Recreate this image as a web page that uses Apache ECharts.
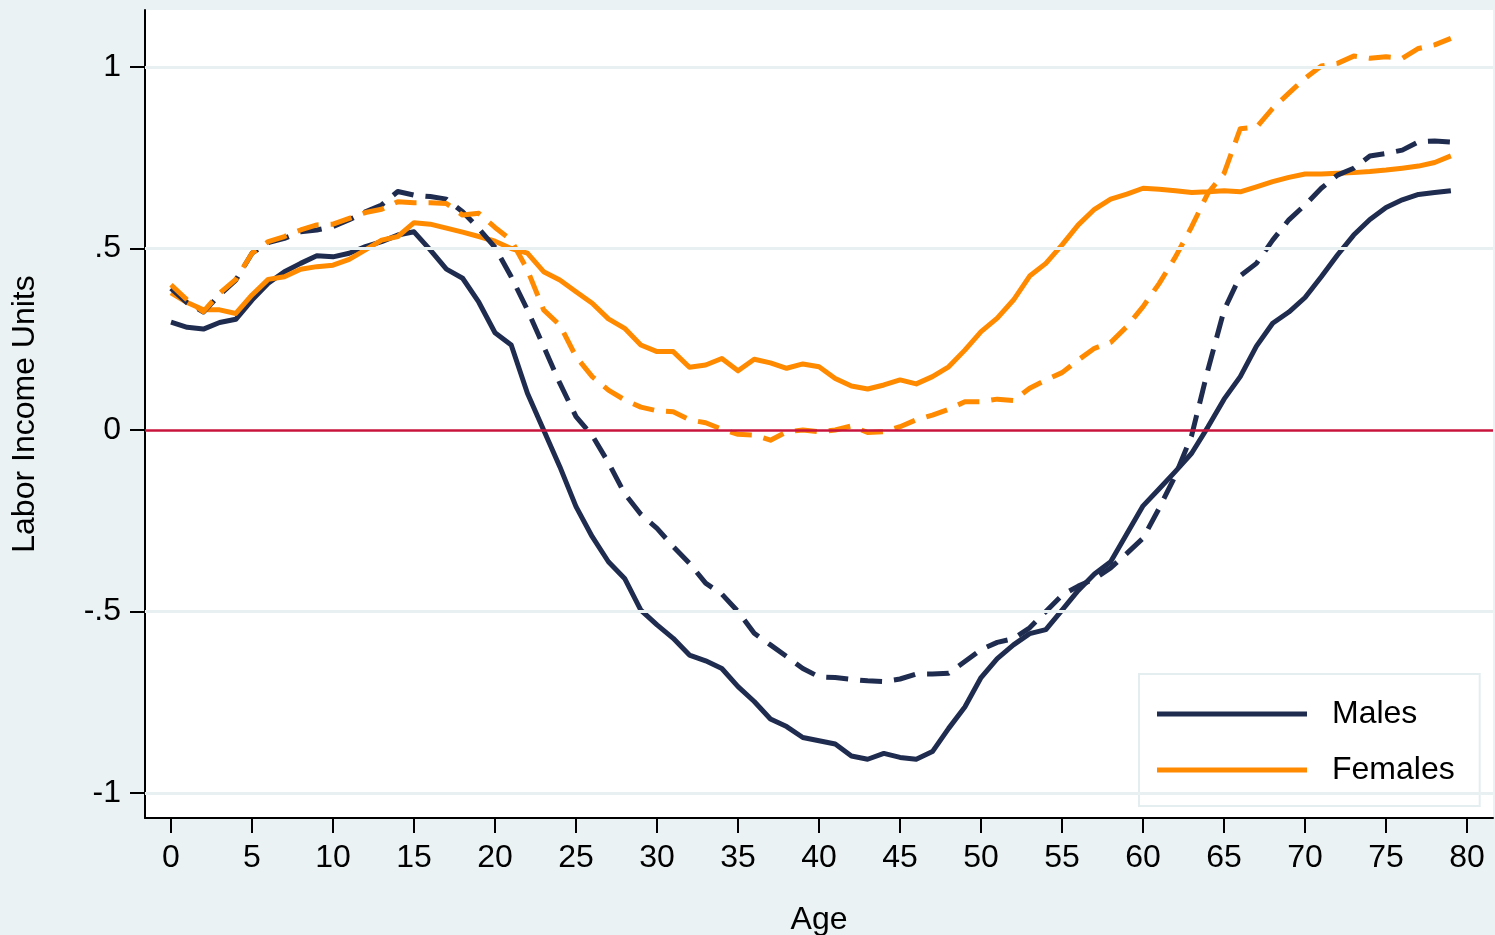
<!DOCTYPE html>
<html>
<head>
<meta charset="utf-8">
<script src="https://cdn.jsdelivr.net/npm/echarts@6/dist/echarts.min.js"></script>
<style>
  html, body { margin: 0; padding: 0; background: #eaf2f3; }
  #chart { width: 1495px; height: 935px; }
</style>
</head>
<body>
<div id="chart"></div>
<script>
const ages = [0,1,2,3,4,5,6,7,8,9,10,11,12,13,14,15,16,17,18,19,20,21,22,23,24,25,26,27,28,29,30,31,32,33,34,35,36,37,38,39,40,41,42,43,44,45,46,47,48,49,50,51,52,53,54,55,56,57,58,59,60,61,62,63,64,65,66,67,68,69,70,71,72,73,74,75,76,77,78,79];

const malesSolid = [0.297,0.283,0.278,0.296,0.305,0.358,0.404,0.436,0.459,0.480,
  0.477,0.487,0.505,0.519,0.537,0.546,0.496,0.443,0.418,0.352,
  0.268,0.234,0.101,0.000,-0.101,-0.211,-0.294,-0.363,-0.409,-0.496,
  -0.537,-0.574,-0.620,-0.636,-0.657,-0.707,-0.748,-0.796,-0.817,-0.847,
  -0.856,-0.865,-0.898,-0.907,-0.891,-0.902,-0.907,-0.886,-0.822,-0.763,
  -0.682,-0.630,-0.592,-0.561,-0.550,-0.496,-0.442,-0.397,-0.363,-0.286,
  -0.209,-0.162,-0.114,-0.064,0.008,0.085,0.147,0.231,0.294,0.325,
  0.365,0.422,0.482,0.537,0.580,0.613,0.634,0.649,0.654,0.659];

const malesDashed = [0.390,0.350,0.325,0.372,0.413,0.487,0.516,0.528,0.546,0.551,
  0.560,0.579,0.601,0.620,0.657,0.647,0.643,0.636,0.601,0.555,
  0.503,0.422,0.331,0.230,0.129,0.037,-0.015,-0.090,-0.175,-0.232,
  -0.271,-0.321,-0.367,-0.422,-0.452,-0.500,-0.560,-0.592,-0.624,-0.657,
  -0.680,-0.682,-0.687,-0.691,-0.693,-0.686,-0.672,-0.672,-0.670,-0.638,
  -0.605,-0.585,-0.575,-0.545,-0.500,-0.455,-0.430,-0.410,-0.380,-0.340,
  -0.298,-0.215,-0.125,-0.015,0.165,0.330,0.425,0.459,0.523,0.579,
  0.620,0.666,0.702,0.721,0.755,0.762,0.771,0.794,0.796,0.793];

const femalesSolid = [0.378,0.351,0.331,0.331,0.321,0.372,0.415,0.422,0.443,0.450,
  0.454,0.470,0.496,0.523,0.533,0.571,0.567,0.556,0.545,0.533,
  0.520,0.500,0.487,0.436,0.413,0.381,0.349,0.306,0.280,0.234,
  0.216,0.216,0.173,0.179,0.197,0.163,0.195,0.185,0.170,0.182,
  0.174,0.142,0.121,0.113,0.124,0.138,0.127,0.147,0.174,0.220,
  0.271,0.308,0.358,0.424,0.459,0.510,0.565,0.608,0.636,0.650,
  0.666,0.663,0.659,0.654,0.656,0.659,0.656,0.670,0.684,0.696,
  0.705,0.705,0.707,0.709,0.712,0.716,0.721,0.727,0.737,0.755];

const femalesDashed = [0.400,0.358,0.326,0.377,0.415,0.487,0.519,0.533,0.551,0.565,
  0.567,0.583,0.599,0.608,0.629,0.626,0.626,0.624,0.592,0.597,
  0.558,0.523,0.441,0.331,0.289,0.202,0.147,0.110,0.083,0.063,
  0.053,0.050,0.028,0.020,0.002,-0.012,-0.014,-0.028,-0.005,0.000,
  -0.005,0.000,0.011,-0.007,-0.005,0.009,0.028,0.041,0.057,0.078,
  0.078,0.085,0.081,0.115,0.138,0.158,0.193,0.225,0.241,0.285,
  0.340,0.404,0.477,0.560,0.652,0.707,0.830,0.834,0.886,0.928,
  0.969,1.003,1.010,1.030,1.024,1.028,1.024,1.051,1.061,1.079];

const xTickValues = [0,5,10,15,20,25,30,35,40,45,50,55,60,65,70,75,80];
const yTickValues = [-1,-0.5,0,0.5,1];
const yTickLabels = ['-1','-.5','0','.5','1'];
const yGridValues = [-1,-0.5,0.5,1];
const zeroLine = [0];

const NAVY = '#1f2c50';
const ORANGE = '#ff8a00';
const FONT = "'Liberation Sans', Arial, Helvetica, sans-serif";
const FS = 32;

const pairs = arr => ages.map((a, i) => [a, arr[i]]);

const chart = echarts.init(document.getElementById('chart'), null, { renderer: 'canvas' });

const dash = [22, 12];
const LW = 5;

chart.setOption({
  backgroundColor: '#eaf2f3',
  animation: false,
  textStyle: { fontFamily: FONT },
  grid: {
    left: 145, right: 2, top: 10, bottom: 117,
    outerBoundsMode: 'none',
    containLabel: false,
    show: true, backgroundColor: '#ffffff', borderWidth: 0
  },
  legend: {
    orient: 'vertical',
    left: 1139, top: 674,
    padding: [24, 25, 20, 18],
    backgroundColor: '#ffffff',
    borderColor: '#e4eef0',
    borderWidth: 2,
    itemWidth: 150,
    itemHeight: 5,
    itemGap: 24,
    icon: 'rect',
    data: ['Males', 'Females'],
    textStyle: { fontSize: FS, color: '#000', fontFamily: FONT, padding: [0, 0, 0, 20] }
  },
  xAxis: {
    type: 'value',
    min: -1.605, max: 81.6,
    name: 'Age',
    nameLocation: 'middle',
    nameGap: 86,
    nameTextStyle: { fontSize: FS, color: '#000', fontFamily: FONT },
    axisLine: { show: true, onZero: false, lineStyle: { color: '#000', width: 2 } },
    axisTick: { show: true, customValues: xTickValues, length: 15, lineStyle: { color: '#000', width: 2 } },
    axisLabel: { customValues: xTickValues, margin: 24, fontSize: FS, color: '#000', fontFamily: FONT },
    splitLine: { show: false }
  },
  yAxis: {
    type: 'value',
    min: -1.0689, max: 1.157,
    name: 'Labor Income Units',
    nameLocation: 'middle',
    nameGap: 104,
    nameTextStyle: { fontSize: FS, color: '#000', fontFamily: FONT },
    axisLine: { show: true, onZero: false, lineStyle: { color: '#000', width: 2 } },
    axisTick: { show: true, customValues: yTickValues, length: 15, lineStyle: { color: '#000', width: 2 } },
    axisLabel: {
      customValues: yTickValues, margin: 24, fontSize: FS, color: '#000', fontFamily: FONT,
      formatter: v => { const i = yTickValues.indexOf(v); return i >= 0 ? yTickLabels[i] : ''; }
    },
    splitLine: { show: false }
  },
  series: [
    {
      name: 'grid', type: 'line', data: [], z: 1, silent: true,
      markLine: {
        silent: true, symbol: 'none', label: { show: false },
        lineStyle: { color: '#e8f0f2', width: 3, type: 'solid' },
        data: yGridValues.map(v => ({ yAxis: v }))
      }
    },
    {
      name: 'zero', type: 'line', data: [], z: 1, silent: true,
      markLine: {
        silent: true, symbol: 'none', label: { show: false },
        lineStyle: { color: '#c8143c', width: 2.5, type: 'solid' },
        data: zeroLine.map(v => ({ yAxis: v }))
      }
    },
    {
      name: 'Males', type: 'line', data: pairs(malesSolid), z: 3,
      showSymbol: false, symbol: 'none',
      itemStyle: { color: NAVY },
      lineStyle: { color: NAVY, width: LW, join: 'round' }
    },
    {
      name: 'Females', type: 'line', data: pairs(femalesSolid), z: 3,
      showSymbol: false, symbol: 'none',
      itemStyle: { color: ORANGE },
      lineStyle: { color: ORANGE, width: LW, join: 'round' }
    },
    {
      name: 'Males (dashed)', type: 'line', data: pairs(malesDashed), z: 3,
      showSymbol: false, symbol: 'none',
      itemStyle: { color: NAVY },
      lineStyle: { color: NAVY, width: LW, type: dash, join: 'round' }
    },
    {
      name: 'Females (dashed)', type: 'line', data: pairs(femalesDashed), z: 3,
      showSymbol: false, symbol: 'none',
      itemStyle: { color: ORANGE },
      lineStyle: { color: ORANGE, width: LW, type: dash, join: 'round' }
    }
  ]
});
</script>
</body>
</html>
